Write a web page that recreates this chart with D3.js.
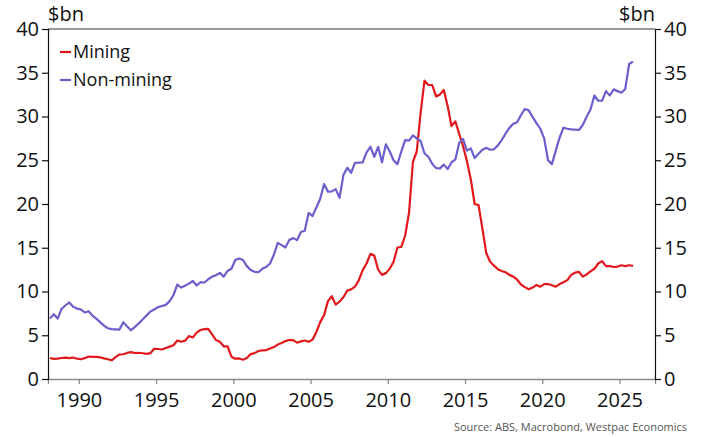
<!DOCTYPE html>
<html>
<head>
<meta charset="utf-8">
<script src="https://cdn.jsdelivr.net/npm/d3@7"></script>
<style>
  html, body { margin: 0; padding: 0; background: #fff; }
  svg { display: block; font-family: "Open Sans", "Noto Sans", sans-serif; }
</style>
</head>
<body>
<svg id="chart" width="704" height="437"></svg>
<script>
// Quarterly business investment, $bn, starting 1988 Q1
const startYear = 1988;
const seriesNames = ["Mining", "Non-mining"];
const seriesColors = ["#e2191c", "#6a5fcb"];

const mining = [
  2.40, 2.30, 2.32, 2.40, 2.45, 2.38, 2.45, 2.32, 2.26, 2.38,
  2.56, 2.52, 2.52, 2.48, 2.36, 2.26, 2.14, 2.50, 2.80, 2.83,
  2.98, 3.07, 2.97, 3.00, 2.94, 2.87, 2.95, 3.46, 3.43, 3.37,
  3.55, 3.70, 3.85, 4.40, 4.25, 4.38, 4.90, 4.75, 5.30, 5.60,
  5.70, 5.72, 5.10, 4.45, 4.25, 3.74, 3.74, 2.55, 2.32, 2.35,
  2.20, 2.40, 2.85, 2.96, 3.20, 3.27, 3.30, 3.48, 3.65, 3.93,
  4.12, 4.33, 4.46, 4.45, 4.15, 4.30, 4.40, 4.25, 4.50, 5.35,
  6.50, 7.30, 8.90, 9.46, 8.50, 8.85, 9.35, 10.10, 10.24, 10.55,
  11.30, 12.44, 13.20, 14.30, 14.10, 12.50, 11.90, 12.10, 12.60, 13.40,
  15.03, 15.10, 16.40, 19.00, 24.80, 26.00, 30.40, 34.10, 33.60, 33.60,
  32.30, 32.50, 33.03, 31.20, 28.90, 29.45, 28.00, 26.60, 24.90, 22.80,
  20.00, 19.87, 17.20, 14.40, 13.40, 12.95, 12.55, 12.35, 12.20, 11.90,
  11.70, 11.35, 10.80, 10.50, 10.25, 10.45, 10.75, 10.55, 10.85, 10.85,
  10.72, 10.55, 10.85, 11.05, 11.30, 11.90, 12.15, 12.25, 11.70, 11.95,
  12.30, 12.60, 13.20, 13.47, 12.90, 12.90, 12.80, 12.85, 13.00, 12.90,
  13.00, 12.93
];

const nonMining = [
  6.90, 7.40, 6.90, 8.00, 8.40, 8.75, 8.25, 8.05, 7.95, 7.60,
  7.75, 7.25, 6.90, 6.50, 6.10, 5.80, 5.70, 5.68, 5.65, 6.49,
  6.00, 5.57, 5.95, 6.35, 6.80, 7.25, 7.70, 7.95, 8.22, 8.35,
  8.47, 8.90, 9.60, 10.80, 10.45, 10.65, 10.90, 11.20, 10.69, 11.06,
  11.03, 11.40, 11.70, 11.86, 12.13, 11.70, 12.35, 12.60, 13.60, 13.77,
  13.60, 12.90, 12.45, 12.25, 12.20, 12.60, 12.80, 13.20, 14.20, 15.56,
  15.30, 15.03, 15.90, 16.10, 15.87, 16.80, 16.95, 19.00, 18.62, 19.60,
  20.60, 22.28, 21.40, 21.44, 21.70, 20.71, 23.30, 24.14, 23.57, 24.71,
  24.73, 24.76, 25.90, 26.54, 25.40, 26.54, 24.76, 26.82, 26.00, 25.00,
  24.56, 26.00, 27.30, 27.25, 27.85, 27.50, 27.20, 25.80, 25.40, 24.60,
  24.10, 24.07, 24.50, 24.00, 24.75, 25.10, 27.00, 27.43, 26.10, 26.36,
  25.25, 25.75, 26.20, 26.43, 26.20, 26.25, 26.70, 27.31, 28.05, 28.70,
  29.17, 29.34, 30.17, 30.86, 30.70, 29.95, 29.25, 28.60, 27.50, 25.00,
  24.56, 26.10, 27.60, 28.72, 28.60, 28.52, 28.50, 28.46, 29.03, 29.98,
  30.80, 32.40, 31.80, 31.80, 32.90, 32.40, 33.10, 32.90, 32.72, 33.15,
  36.00, 36.27
];

const xTicks = [1990, 1995, 2000, 2005, 2010, 2015, 2020, 2025];
const yTicks = [0, 5, 10, 15, 20, 25, 30, 35, 40];
const unitLabel = "$bn";
const sourceText = "Source: ABS, Macrobond, Westpac Economics";

const W = 704, H = 437;
const margin = { top: 29, right: 49, bottom: 58, left: 48 };
const svg = d3.select("#chart");

const x = d3.scaleLinear().domain([1988, 2027.3]).range([margin.left, W - margin.right]);
const y = d3.scaleLinear().domain([0, 40]).range([H - margin.bottom, margin.top]);

// quarter midpoints
const quarterTime = i => startYear + 0.125 + 0.25 * i;

// frame top
svg.append("line")
  .attr("x1", margin.left).attr("x2", W - margin.right)
  .attr("y1", margin.top).attr("y2", margin.top)
  .attr("stroke", "#333").attr("stroke-width", 1);

// bottom axis
const gx = svg.append("g")
  .attr("transform", `translate(0,${H - margin.bottom})`)
  .call(d3.axisBottom(x).tickValues(xTicks).tickFormat(d3.format("d")).tickSize(5).tickPadding(9));
gx.select(".domain").attr("stroke", "#8a8a8a").attr("stroke-width", 1.3);
gx.selectAll(".tick line").attr("stroke", "#8a8a8a").attr("stroke-width", 1.3);
gx.selectAll("text").attr("font-size", 20).attr("fill", "#111")
  .attr("font-family", "'Open Sans', sans-serif");

// left axis
const gl = svg.append("g")
  .attr("transform", `translate(${margin.left},0)`)
  .call(d3.axisLeft(y).tickValues(yTicks).tickSize(6).tickPadding(3));
gl.selectAll(".domain, .tick line").attr("stroke", "#111").attr("stroke-width", 1.2);
gl.selectAll("text").attr("font-size", 20).attr("fill", "#111")
  .attr("font-family", "'Open Sans', sans-serif");

// right axis
const gr = svg.append("g")
  .attr("transform", `translate(${W - margin.right},0)`)
  .call(d3.axisRight(y).tickValues(yTicks).tickSize(6).tickPadding(3));
gr.selectAll(".domain, .tick line").attr("stroke", "#111").attr("stroke-width", 1.2);
gr.selectAll("text").attr("font-size", 20).attr("fill", "#111")
  .attr("font-family", "'Open Sans', sans-serif");

// unit labels
svg.append("text").attr("x", margin.left).attr("y", 21)
  .attr("font-size", 20).attr("fill", "#111").text(unitLabel);
svg.append("text").attr("x", W - margin.right).attr("y", 21)
  .attr("text-anchor", "end").attr("font-size", 20).attr("fill", "#111").text(unitLabel);

// series lines
const line = d3.line()
  .x((d, i) => x(quarterTime(i)))
  .y(d => y(d));

[mining, nonMining].forEach((vals, k) => {
  svg.append("path")
    .datum(vals)
    .attr("fill", "none")
    .attr("stroke", seriesColors[k])
    .attr("stroke-width", 2.2)
    .attr("stroke-linejoin", "round")
    .attr("d", line);
});

// legend
const legend = svg.append("g").attr("transform", "translate(60,52)");
seriesNames.forEach((name, k) => {
  const g = legend.append("g").attr("transform", `translate(0,${k * 28})`);
  g.append("line").attr("x1", 0).attr("x2", 11).attr("y1", 0).attr("y2", 0)
    .attr("stroke", seriesColors[k]).attr("stroke-width", 2.2);
  g.append("text").attr("x", 13).attr("y", 6)
    .attr("font-size", 18).attr("fill", "#111").text(name);
});

// source note
svg.append("text").attr("x", 687).attr("y", 431)
  .attr("text-anchor", "end").attr("font-size", 11).attr("fill", "#555")
  .text(sourceText);
</script>
</body>
</html>
